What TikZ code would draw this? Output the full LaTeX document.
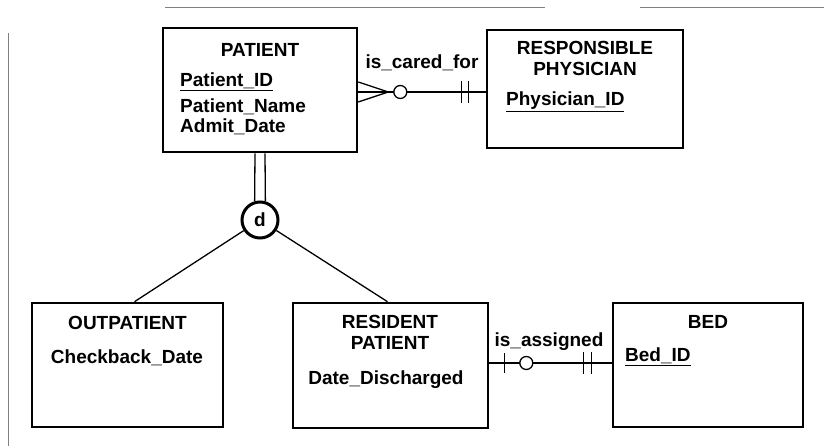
\documentclass[tikz,border=0pt]{standalone}
\usepackage{fontspec}
\setmainfont{Liberation Sans}
\usetikzlibrary{calc}
\begin{document}
\begin{tikzpicture}[x=1pt,y=-1pt,
  entity/.style={draw,line width=2.6pt,inner sep=0pt},
  conn/.style={line width=1.3pt},
  txt/.style={inner sep=0pt,font=\fontsize{19}{21}\selectfont\bfseries},
  attr/.style={txt,anchor=west},
  artifact/.style={gray,line width=1pt}]
\useasboundingbox (0,0) rectangle (824,446);
% scan artefacts
\draw[artifact] (165,8) -- (545,8);
\draw[artifact] (640,8) -- (824,8);
\draw[artifact] (8,33) -- (8,446);
% entities
\node[entity,minimum width=194pt,minimum height=124pt] (patient) at (260,90) {};
\node[entity,minimum width=196pt,minimum height=118pt] (phys) at (585,89) {};
\node[entity,minimum width=191pt,minimum height=124pt] (outp) at (127.5,365) {};
\node[entity,minimum width=195pt,minimum height=125pt] (resid) at (390.5,365.5) {};
\node[entity,minimum width=190pt,minimum height=124pt] (bed) at (708,365) {};
% texts
\node[txt] (t1) at (260,50) {PATIENT};
\node[attr] (a1) at (180,82) {\underline{Patient\_ID}};
\node[attr] (a2) at (180,107) {Patient\_Name};
\node[attr] (a3) at (180,127) {Admit\_Date};
\node[txt,align=center] (t2) at (585,58) {RESPONSIBLE\\PHYSICIAN};
\node[attr] (a4) at (506,102) {\underline{Physician\_ID}};
\node[txt] (t3) at (127.5,323) {OUTPATIENT};
\node[txt] (a5) at (127,358) {Checkback\_Date};
\node[txt,align=center] (t4) at (390,332) {RESIDENT\\PATIENT};
\node[txt] (a6) at (386,380) {Date\_Discharged};
\node[txt] (t5) at (708,322) {BED};
\node[attr] (a7) at (625,357) {\underline{Bed\_ID}};
% is_cared_for
\coordinate (c1a) at ($(patient.east)+(0,2)$);
\coordinate (c1b) at (c1a -| phys.west);
\draw[conn] (c1a) -- (c1b);
\draw[conn] ($(c1a)+(0,-10)$) -- ($(c1a)+(30,0)$) -- ($(c1a)+(0,10)$);
\draw[conn,fill=white] ($(c1a)+(42,0)$) circle (6.5);
\draw[conn] ($(c1b)+(-24,-11)$) -- ($(c1b)+(-24,11)$);
\draw[conn] ($(c1b)+(-17,-11)$) -- ($(c1b)+(-17,11)$);
\node[txt] (l1) at (422,63) {is\_cared\_for};
% is_assigned
\coordinate (c2a) at ($(resid.east)+(0,-2.5)$);
\coordinate (c2b) at (c2a -| bed.west);
\draw[conn] (c2a) -- (c2b);
\draw[conn] ($(c2a)+(15,-10)$) -- ($(c2a)+(15,10)$);
\draw[conn,fill=white] ($(c2a)+(37,0)$) circle (6.5);
\draw[conn] ($(c2b)+(-28,-11)$) -- ($(c2b)+(-28,11)$);
\draw[conn] ($(c2b)+(-20,-11)$) -- ($(c2b)+(-20,11)$);
\node[txt] (l2) at (549,342) {is\_assigned};
% disjoint subtype
\node[circle,draw,line width=3pt,minimum size=36pt,inner sep=0pt,txt] (d) at (260,220) {d};
\draw[conn] ([xshift=-5pt]patient.south) -- (d.106);
\draw[conn] ([xshift=5pt]patient.south) -- (d.74);
\draw[conn] (d) -- ([xshift=7pt]outp.north);
\draw[conn] (d) -- ([xshift=-3pt]resid.north);
\end{tikzpicture}
\end{document}
